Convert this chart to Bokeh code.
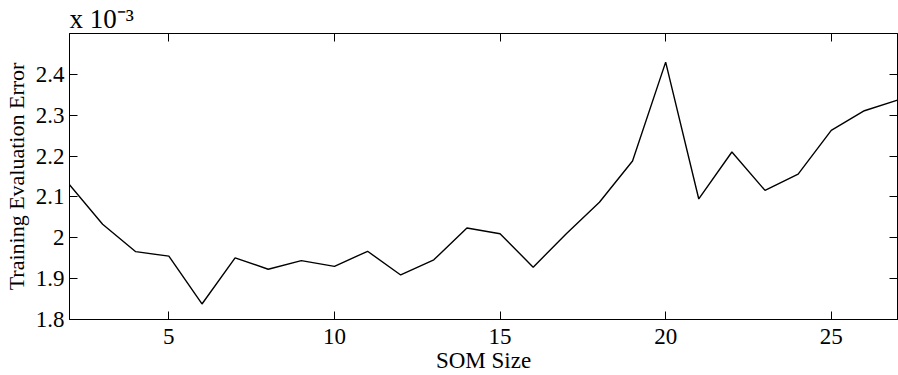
from bokeh.plotting import figure
from bokeh.models import LinearAxis, Title, FixedTicker, Range1d
from bokeh.embed import file_html
from bokeh.resources import INLINE

# SOM size vs training evaluation error (values in units of 1e-3)
som_size = [2, 3, 4, 5, 6, 7, 8, 9, 10, 11, 12, 13, 14, 15, 16, 17, 18, 19, 20, 21, 22, 23, 24, 25, 26, 27]
eval_error = [2.130, 2.033, 1.966, 1.955, 1.838, 1.951, 1.923, 1.944, 1.930, 1.967, 1.909, 1.946,
              2.024, 2.010, 1.928, 2.010, 2.087, 2.188, 2.430, 2.095, 2.210, 2.116, 2.156, 2.263,
              2.311, 2.337]
x_ticks = [5, 10, 15, 20, 25]
y_ticks = [1.8, 1.9, 2.0, 2.1, 2.2, 2.3, 2.4]
y_tick_labels = ["1.8", "1.9", "2", "2.1", "2.2", "2.3", "2.4"]
scale_label = "x 10\u207b\u00b3"

FONT = "Liberation Serif"

p = figure(width=898, height=375, output_backend="svg", toolbar_location=None,
           x_range=Range1d(2, 27), y_range=Range1d(1.8, 2.5),
           min_border_left=68, min_border_right=1, min_border_top=33, min_border_bottom=56)
p.xgrid.visible = False
p.ygrid.visible = False
p.outline_line_color = "black"
p.outline_line_width = 1
p.background_fill_color = "white"

p.line(som_size, eval_error, line_color="black", line_width=1.4)

def style(ax, labels=True):
    ax.axis_line_color = "black"
    ax.major_tick_line_color = "black"
    ax.major_tick_in = 8
    ax.major_tick_out = 0
    ax.minor_tick_line_color = None
    ax.major_label_text_font = FONT
    ax.major_label_text_font_size = "23px" if labels else "0px"
    ax.major_label_text_color = "black"
    ax.axis_label_text_font = FONT
    ax.axis_label_text_font_size = "23px"
    ax.axis_label_text_font_style = "normal"
    ax.axis_label_text_color = "black"
    if not labels:
        ax.major_label_text_alpha = 0
        ax.major_label_standoff = 0

xa = p.xaxis[0]
ya = p.yaxis[0]
xa.ticker = FixedTicker(ticks=x_ticks)
ya.ticker = FixedTicker(ticks=y_ticks)
ya.major_label_overrides = {t: l for t, l in zip(y_ticks, y_tick_labels)}
style(xa)
style(ya)
xa.axis_label = "SOM Size"
ya.axis_label = "Training Evaluation Error"
ya.axis_label_text_font_size = "22px"
xa.major_label_standoff = 9
xa.axis_label_standoff = 1
ya.major_label_standoff = 5
ya.axis_label_standoff = 4

top = LinearAxis(ticker=FixedTicker(ticks=x_ticks))
right = LinearAxis(ticker=FixedTicker(ticks=y_ticks))
style(top, labels=False)
style(right, labels=False)
p.add_layout(top, "above")
p.add_layout(right, "right")

p.add_layout(Title(text=scale_label, align="left", offset=0, standoff=0,
                   vertical_align="bottom", text_font=FONT, text_font_size="27px",
                   text_font_style="normal", text_color="black"), "above")

open("out.html", "w").write(file_html(p, INLINE))
